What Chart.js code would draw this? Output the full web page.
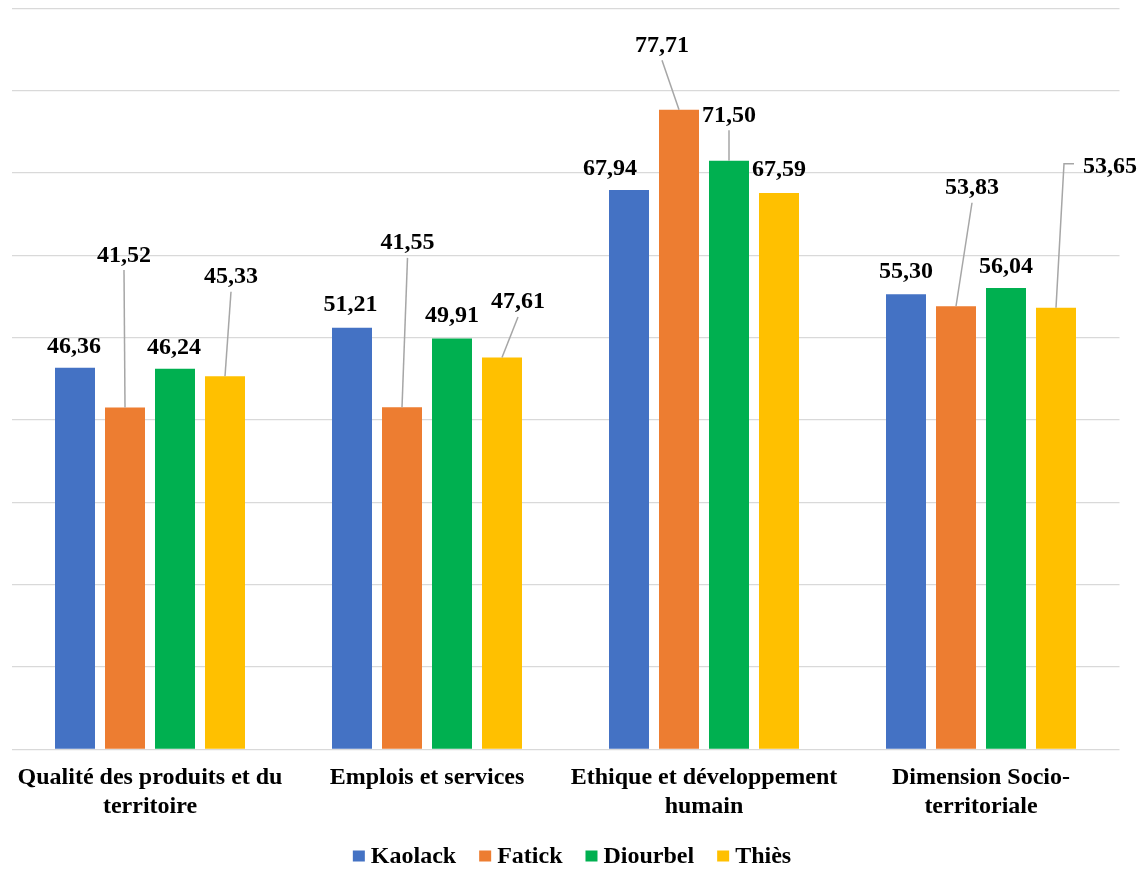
<!DOCTYPE html>
<html lang="fr">
<head>
<meta charset="utf-8">
<title>Dimension Socio-territoriale par région</title>
<script src="https://cdn.jsdelivr.net/npm/chart.js@4.4.1/dist/chart.umd.min.js"></script>
<style>
  html, body { margin: 0; padding: 0; background: #ffffff; }
  #wrap { width: 1143px; height: 869px; }
</style>
</head>
<body>
<div id="wrap"><canvas id="chart" width="1143" height="869"></canvas></div>
<script>
// Categories (multi-line axis labels)
const categories = [
  ['Qualité des produits et du', 'territoire'],
  ['Emplois et services'],
  ['Ethique et développement', 'humain'],
  ['Dimension Socio-', 'territoriale']
];

// Series
const seriesNames = ['Kaolack', 'Fatick', 'Diourbel', 'Thiès'];
const kaolack  = [46.36, 51.21, 67.94, 55.30];
const fatick   = [41.52, 41.55, 77.71, 53.83];
const diourbel = [46.24, 49.91, 71.50, 56.04];
const thies    = [45.33, 47.61, 67.59, 53.65];

// Value axis
const yMin = 0;
const yMax = 90;
const yStep = 10;

const seriesColors = ['#4472C4', '#ED7D31', '#00B050', '#FFC000'];
const FONT_FAMILY = '"Liberation Serif", "Times New Roman", Times, serif';

// Data label placement: offset of the label centre from the top-centre of its bar (px),
// with an optional leader line back to the bar.
const labelPlacement = [
  [{ dx: -1, dy: -23 }, { dx: -1.5, dy: -25 }, { dx: -19, dy: -23 }, { dx: 0, dy: -24 }],
  [{ dx: -1, dy: -154, leader: 'line' }, { dx: 5.5, dy: -166, leader: 'line' }, { dx: -17, dy: -66, leader: 'line' }, { dx: 16, dy: -120, leader: 'line' }],
  [{ dx: -1, dy: -23 }, { dx: 0, dy: -25 }, { dx: 0, dy: -47, leader: 'line' }, { dx: 0, dy: -23 }],
  [{ dx: 6, dy: -101, leader: 'line' }, { dx: 16, dy: -57, leader: 'line' }, { dx: 0, dy: -25 }, { dx: 54, dy: -143, leader: 'elbow' }]
];

const fmt = v => v.toFixed(2).replace('.', ',');

const valueLabels = {
  id: 'valueLabels',
  afterDatasetsDraw(chart) {
    const ctx = chart.ctx;
    ctx.save();
    ctx.font = 'bold 24px ' + FONT_FAMILY;
    ctx.textAlign = 'center';
    ctx.textBaseline = 'alphabetic';
    chart.data.datasets.forEach((ds, di) => {
      const meta = chart.getDatasetMeta(di);
      meta.data.forEach((bar, i) => {
        const p = labelPlacement[di][i];
        const txt = fmt(ds.data[i]);
        const lx = bar.x + p.dx;
        const ly = bar.y + p.dy;
        if (p.leader) {
          ctx.strokeStyle = '#A6A6A6';
          ctx.lineWidth = 1.5;
          ctx.beginPath();
          if (p.leader === 'elbow') {
            const left = lx - ctx.measureText(txt).width / 2;
            ctx.moveTo(left - 9, ly - 1);
            ctx.lineTo(left - 19, ly - 1);
          } else {
            ctx.moveTo(lx, ly + 16.5);
          }
          ctx.lineTo(bar.x, bar.y);
          ctx.stroke();
        }
        ctx.fillStyle = '#000000';
        ctx.fillText(txt, lx, ly + 8);
      });
    });
    ctx.restore();
  }
};

const bottomLegend = {
  id: 'bottomLegend',
  afterDraw(chart) {
    const ctx = chart.ctx;
    ctx.save();
    ctx.font = 'bold 24px ' + FONT_FAMILY;
    ctx.textBaseline = 'alphabetic';
    ctx.textAlign = 'left';
    const box = 12, gapText = 6, gapItem = 23;
    const items = chart.data.datasets.map(ds => ({
      label: ds.label, color: ds.backgroundColor, w: ctx.measureText(ds.label).width
    }));
    const total = items.reduce((s, it) => s + box + gapText + it.w, 0) + gapItem * (items.length - 1);
    let x = 572 - total / 2;
    const boxTop = 850.5, baseline = 863;
    items.forEach(it => {
      ctx.fillStyle = it.color;
      ctx.fillRect(x, boxTop, box, box - 1);
      ctx.fillStyle = '#000000';
      ctx.fillText(it.label, x + box + gapText, baseline);
      x += box + gapText + it.w + gapItem;
    });
    ctx.restore();
  }
};

const seriesValues = [kaolack, fatick, diourbel, thies];

new Chart(document.getElementById('chart'), {
  type: 'bar',
  data: {
    labels: categories,
    datasets: seriesNames.map((name, k) => ({
      label: name,
      data: seriesValues[k],
      backgroundColor: seriesColors[k],
      borderWidth: 0,
      categoryPercentage: 0.722,
      barPercentage: 0.8
    }))
  },
  options: {
    responsive: false,
    devicePixelRatio: 1,
    animation: false,
    layout: { padding: { left: 11.5, right: 23.5, top: 8.5, bottom: 34 } },
    plugins: {
      legend: { display: false },
      tooltip: { enabled: false }
    },
    scales: {
      x: {
        grid: { display: false, drawTicks: false },
        border: { display: false },
        ticks: {
          color: '#000000',
          font: { family: FONT_FAMILY, size: 24, weight: 'bold', lineHeight: 1.2 },
          padding: 14,
          maxRotation: 0,
          autoSkip: false
        }
      },
      y: {
        min: yMin,
        max: yMax,
        grid: { color: '#D9D9D9', lineWidth: 1.3, drawTicks: false },
        border: { display: false },
        ticks: { display: false, stepSize: yStep }
      }
    }
  },
  plugins: [valueLabels, bottomLegend]
});
</script>
</body>
</html>
